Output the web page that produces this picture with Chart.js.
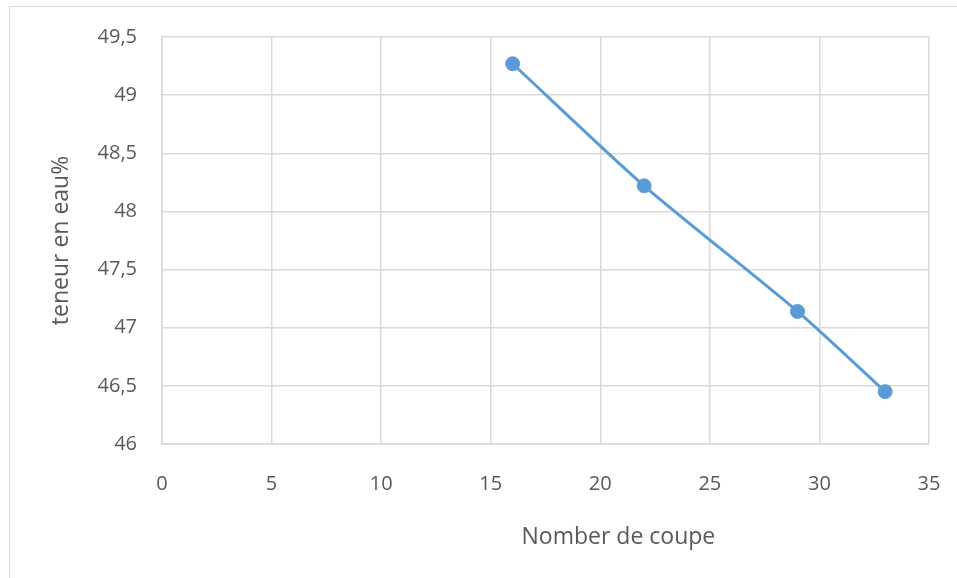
<!DOCTYPE html>
<html>
<head>
<meta charset="utf-8">
<script src="https://cdn.jsdelivr.net/npm/chart.js@4/dist/chart.umd.min.js"></script>
<style>
  html, body { margin: 0; padding: 0; background: #fff; overflow: hidden; }
  #wrap { position: relative; width: 957px; height: 578px; }
  #frame { position: absolute; left: 9px; top: 6px; width: 1000px; height: 1000px; border: 1.5px solid #d9d9d9; }
  #chart { position: absolute; left: 0; top: 0; }
</style>
</head>
<body>
<div id="wrap">
  <div id="frame"></div>
  <canvas id="chart" width="957" height="578"></canvas>
</div>
<script>
// data
const coupes = [16, 22, 29, 33];
const teneurEau = [49.27, 48.22, 47.14, 46.45];
const xTickValues = [0, 5, 10, 15, 20, 25, 30, 35];
const yTickValues = [46, 46.5, 47, 47.5, 48, 48.5, 49, 49.5];
const xTitle = 'Nomber de coupe';
const yTitle = 'teneur en eau%';

const textColor = '#595959';
const gridColor = '#d9d9d9';
const fontFamily = "'Open Sans', sans-serif";

// x axis title sits right of centre in the original, so draw it here
const xTitlePlugin = {
    id: 'xTitle',
    afterDraw(chart) {
        const ctx = chart.ctx;
        const area = chart.chartArea;
        ctx.save();
        ctx.font = "23px " + fontFamily;
        ctx.fillStyle = textColor;
        ctx.textAlign = 'center';
        ctx.textBaseline = 'middle';
        ctx.fillText(xTitle, area.left + (area.right - area.left) * 0.595, area.bottom + 93);
        ctx.restore();
    }
};

const ctx = document.getElementById('chart').getContext('2d');

new Chart(ctx, {
    type: 'line',
    data: {
        datasets: [{
            label: yTitle,
            data: coupes.map((c, i) => ({ x: c, y: teneurEau[i] })),
            borderColor: '#5b9bd5',
            backgroundColor: '#5b9bd5',
            borderWidth: 3,
            pointRadius: 7,
            pointBorderWidth: 1,
            pointBackgroundColor: '#5b9bd5',
            pointBorderColor: '#5b9bd5',
            tension: 0.25,
            fill: false
        }]
    },
    options: {
        responsive: false,
        animation: false,
        devicePixelRatio: 1,
        layout: { padding: { top: 37, right: 28, left: 0, bottom: 0 } },
        plugins: {
            legend: { display: false },
            tooltip: { enabled: false }
        },
        scales: {
            x: {
                type: 'linear',
                min: 0,
                max: 35,
                afterBuildTicks: s => { s.ticks = xTickValues.map(v => ({ value: v })); },
                afterFit: s => {
                    s.height = 578 - 444;
                    s.paddingLeft = 0;
                    s.paddingRight = 0;
                },
                grid: { color: gridColor, lineWidth: 1.5, drawTicks: false },
                border: { color: gridColor, width: 1.5 },
                ticks: {
                    color: textColor,
                    padding: 28,
                    maxRotation: 0,
                    font: { family: fontFamily, size: 20 }
                },
                title: { display: false }
            },
            y: {
                type: 'linear',
                min: 46,
                max: 49.5,
                afterBuildTicks: s => { s.ticks = yTickValues.map(v => ({ value: v })); },
                afterFit: s => {
                    s.width = 162;
                    s.paddingTop = 0;
                    s.paddingBottom = 0;
                },
                grid: { color: gridColor, lineWidth: 1.5, drawTicks: false },
                border: { color: gridColor, width: 1.5 },
                ticks: {
                    color: textColor,
                    padding: 25,
                    font: { family: fontFamily, size: 20 },
                    callback: v => String(v).replace('.', ',')
                },
                title: {
                    display: true,
                    text: yTitle,
                    color: textColor,
                    font: { family: fontFamily, size: 23 },
                    padding: { top: 48, bottom: 0 }
                }
            }
        }
    },
    plugins: [xTitlePlugin]
});
</script>
</body>
</html>
